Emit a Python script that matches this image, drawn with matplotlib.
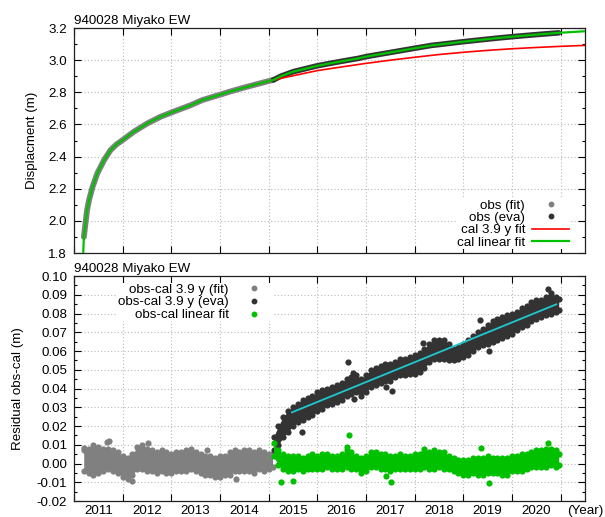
import matplotlib.pyplot as plt
from matplotlib.lines import Line2D
from matplotlib.ticker import MultipleLocator, FixedLocator, FixedFormatter, FormatStrFormatter

plt.rcParams['font.family'] = ['Liberation Sans', 'DejaVu Sans']
plt.rcParams['axes.unicode_minus'] = False

title = "940028 Miyako EW"
year_pos = [2011.5, 2012.5, 2013.5, 2014.5, 2015.5, 2016.5, 2017.5, 2018.5, 2019.5, 2020.5, 2021.5]
year_labels = ['2011', '2012', '2013', '2014', '2015', '2016', '2017', '2018', '2019', '2020', '(Year)']
year_grid = [2011, 2012, 2013, 2014, 2015, 2016, 2017, 2018, 2019, 2020, 2021]

# --- top panel: displacement (m)
obs_fit_t = [2011.203, 2011.24, 2011.27, 2011.31, 2011.38, 2011.48, 2011.62, 2011.75, 2011.87, 2012.0,
             2012.23, 2012.51, 2012.78, 2013.05, 2013.4, 2013.64, 2014.0, 2014.2, 2014.5, 2014.75,
             2015.0, 2015.095]
obs_fit_d = [1.90, 1.995, 2.07, 2.13, 2.21, 2.296, 2.379, 2.44, 2.475, 2.503,
             2.555, 2.607, 2.648, 2.68, 2.72, 2.752, 2.785, 2.804, 2.83, 2.85,
             2.870, 2.877]
obs_eva_t = [2015.095, 2015.25, 2015.5, 2016.0, 2016.26, 2016.5, 2016.84, 2017.0, 2017.5, 2018.0,
             2018.35, 2018.5, 2019.0, 2019.72, 2020.0, 2020.5, 2020.96]
obs_eva_d = [2.877, 2.90, 2.928, 2.965, 2.98, 2.993, 3.011, 3.022, 3.048, 3.074,
             3.092, 3.097, 3.115, 3.138, 3.146, 3.159, 3.17]
cal39_t = [2014.5, 2015.095, 2015.5, 2016.0, 2016.5, 2017.0, 2017.5, 2018.0, 2018.5, 2019.0,
           2019.5, 2020.0, 2020.5, 2021.0, 2021.5]
cal39_d = [2.83, 2.877, 2.903, 2.935, 2.958, 2.98, 3.0, 3.018, 3.035, 3.049,
           3.061, 3.071, 3.079, 3.086, 3.092]
callin_t = [2011.19, 2011.203, 2011.24, 2011.27, 2011.31, 2011.38, 2011.48, 2011.62, 2011.75, 2011.87,
            2012.0, 2012.23, 2012.51, 2012.78, 2013.05, 2013.4, 2013.64, 2014.0, 2014.2, 2014.5,
            2014.75, 2015.0, 2015.095, 2015.25, 2015.5, 2016.0, 2016.26, 2016.5, 2016.84, 2017.0,
            2017.5, 2018.0, 2018.35, 2018.5, 2019.0, 2019.72, 2020.0, 2020.5, 2020.96, 2021.5]
callin_d = [1.80, 1.90, 1.995, 2.07, 2.13, 2.21, 2.296, 2.379, 2.44, 2.475,
            2.503, 2.555, 2.607, 2.648, 2.68, 2.72, 2.752, 2.785, 2.804, 2.83,
            2.85, 2.870, 2.877, 2.90, 2.928, 2.965, 2.98, 2.993, 3.011, 3.022,
            3.048, 3.074, 3.092, 3.097, 3.115, 3.138, 3.146, 3.159, 3.17, 3.18]

# --- bottom panel: residual obs-cal (m), upper / lower edge of the point cloud
res_fit_t = [2011.2, 2011.3, 2011.4, 2011.5, 2011.6, 2011.7, 2011.8, 2011.9, 2012.0, 2012.1,
             2012.2, 2012.3, 2012.4, 2012.5, 2012.6, 2012.7, 2012.8, 2012.9, 2013.0, 2013.1,
             2013.2, 2013.3, 2013.4, 2013.5, 2013.6, 2013.7, 2013.8, 2013.9, 2014.0, 2014.1,
             2014.2, 2014.3, 2014.4, 2014.5, 2014.6, 2014.7, 2014.8, 2014.9, 2015.0, 2015.08]
res_fit_hi = [0.007, 0.008, 0.010, 0.009, 0.008, 0.008, 0.007, 0.006, 0.004, 0.003,
              0.005, 0.009, 0.010, 0.008, 0.007, 0.006, 0.007, 0.006, 0.005, 0.006,
              0.006, 0.007, 0.008, 0.006, 0.005, 0.004, 0.004, 0.003, 0.004, 0.004,
              0.006, 0.007, 0.006, 0.007, 0.007, 0.006, 0.007, 0.006, 0.005, 0.005]
res_fit_lo = [-0.004, -0.005, -0.006, -0.005, -0.004, -0.003, -0.004, -0.005, -0.007, -0.008,
              -0.006, -0.003, -0.003, -0.004, -0.004, -0.005, -0.004, -0.005, -0.005, -0.004,
              -0.004, -0.004, -0.003, -0.004, -0.005, -0.006, -0.006, -0.007, -0.007, -0.006,
              -0.006, -0.004, -0.004, -0.004, -0.004, -0.005, -0.003, -0.004, -0.003, -0.002]
res_fit_out_t = [2011.2, 2011.68, 2011.72, 2012.2, 2012.52, 2013.73, 2014.33]
res_fit_out_v = [0.0081, 0.0116, 0.0118, -0.0092, 0.0108, 0.0071, -0.0085]

res_eva_t = [2015.1, 2015.2, 2015.3, 2015.4, 2015.5, 2015.6, 2015.7, 2015.8, 2015.9, 2016.0,
             2016.1, 2016.2, 2016.3, 2016.4, 2016.5, 2016.6, 2016.7, 2016.8, 2016.9, 2017.0,
             2017.1, 2017.2, 2017.3, 2017.4, 2017.5, 2017.6, 2017.7, 2017.8, 2017.9, 2018.0,
             2018.1, 2018.2, 2018.3, 2018.4, 2018.5, 2018.6, 2018.7, 2018.8, 2018.9, 2019.0,
             2019.1, 2019.2, 2019.3, 2019.4, 2019.5, 2019.6, 2019.7, 2019.8, 2019.9, 2020.0,
             2020.1, 2020.2, 2020.3, 2020.4, 2020.5, 2020.6, 2020.7, 2020.8, 2020.9, 2020.96]
res_eva_hi = [0.014, 0.020, 0.025, 0.028, 0.030, 0.032, 0.034, 0.035, 0.036, 0.038,
              0.039, 0.040, 0.041, 0.042, 0.043, 0.045, 0.046, 0.047, 0.045, 0.047,
              0.050, 0.051, 0.052, 0.053, 0.053, 0.054, 0.056, 0.056, 0.057, 0.058,
              0.059, 0.061, 0.064, 0.066, 0.066, 0.066, 0.064, 0.061, 0.062, 0.064,
              0.066, 0.068, 0.070, 0.072, 0.074, 0.076, 0.077, 0.078, 0.079, 0.080,
              0.081, 0.083, 0.084, 0.086, 0.087, 0.087, 0.089, 0.091, 0.089, 0.088]
res_eva_lo = [0.007, 0.010, 0.014, 0.017, 0.020, 0.022, 0.023, 0.025, 0.026, 0.028,
              0.029, 0.031, 0.032, 0.033, 0.034, 0.036, 0.037, 0.038, 0.036, 0.038,
              0.041, 0.042, 0.043, 0.044, 0.044, 0.046, 0.047, 0.047, 0.048, 0.048,
              0.049, 0.051, 0.054, 0.056, 0.056, 0.056, 0.055, 0.055, 0.056, 0.057,
              0.058, 0.060, 0.062, 0.063, 0.064, 0.065, 0.066, 0.067, 0.068, 0.069,
              0.071, 0.073, 0.074, 0.076, 0.077, 0.078, 0.079, 0.080, 0.081, 0.082]
res_eva_out_t = [2015.69, 2016.64, 2016.74, 2016.76, 2017.41, 2017.53, 2018.17, 2019.35, 2019.52, 2020.75]
res_eva_out_v = [0.0170, 0.0543, 0.0484, 0.0346, 0.0410, 0.0386, 0.0641, 0.0766, 0.0600, 0.0930]

res_lin_t = res_eva_t
res_lin_hi = [0.011, 0.007, 0.005, 0.004, 0.004, 0.004, 0.003, 0.004, 0.005, 0.004,
              0.005, 0.005, 0.004, 0.004, 0.005, 0.007, 0.006, 0.004, 0.003, 0.004,
              0.006, 0.006, 0.005, 0.005, 0.004, 0.004, 0.005, 0.004, 0.004, 0.005,
              0.005, 0.006, 0.006, 0.007, 0.006, 0.006, 0.004, 0.003, 0.002, 0.002,
              0.002, 0.003, 0.003, 0.003, 0.004, 0.003, 0.003, 0.003, 0.003, 0.004,
              0.004, 0.005, 0.005, 0.006, 0.007, 0.007, 0.008, 0.008, 0.007, 0.005]
res_lin_lo = [0.004, -0.001, -0.003, -0.004, -0.004, -0.003, -0.004, -0.003, -0.003, -0.003,
              -0.003, -0.002, -0.003, -0.003, -0.003, -0.002, -0.003, -0.003, -0.005, -0.004,
              -0.002, -0.002, -0.003, -0.003, -0.004, -0.003, -0.003, -0.003, -0.003, -0.003,
              -0.003, -0.002, -0.003, -0.003, -0.002, -0.003, -0.003, -0.004, -0.005, -0.006,
              -0.006, -0.005, -0.006, -0.006, -0.005, -0.005, -0.005, -0.006, -0.006, -0.004,
              -0.004, -0.004, -0.003, -0.002, -0.002, -0.002, -0.002, -0.001, -0.002, -0.001]
res_lin_out_t = [2015.25, 2015.5, 2016.62, 2016.66, 2017.41, 2017.51, 2018.19, 2019.37, 2019.53, 2020.73]
res_lin_out_v = [-0.0100, -0.0095, 0.0089, 0.0150, -0.0065, -0.0097, 0.0076, 0.0084, -0.0102, 0.0110]

trend_t = [2015.48, 2020.91]
trend_v = [0.0273, 0.0849]

c_fit = '#808080'
c_eva = '#333333'
c_lin = '#00c000'
c_red = '#ff0000'
c_cyan = '#20c8d0'
grid_kw = dict(color='#b8b8b8', linestyle=(0, (1, 2)), linewidth=0.8)
fs = 9.6
dot = 20

fig = plt.figure(figsize=(6.05, 5.17), dpi=100)
ax1 = fig.add_axes([0.1223, 0.5106, 0.8446, 0.4352])
ax2 = fig.add_axes([0.1223, 0.0309, 0.8446, 0.4352])

# top panel
ax1.plot(obs_fit_t, obs_fit_d, color=c_fit, lw=4.2, solid_capstyle='round', zorder=2)
ax1.plot(obs_eva_t, obs_eva_d, color=c_eva, lw=4.0, solid_capstyle='round', zorder=2)
ax1.plot(cal39_t, cal39_d, color=c_red, lw=1.2, zorder=3)
ax1.plot(callin_t, callin_d, color=c_lin, lw=1.6, zorder=4)
ax1.set_ylim(1.8, 3.2)
ax1.set_ylabel('Displacment (m)', fontsize=fs)
ax1.yaxis.set_label_coords(-0.070, 0.5)
ax1.yaxis.set_major_locator(MultipleLocator(0.2))
ax1.yaxis.set_minor_locator(MultipleLocator(0.1))
ax1.yaxis.set_major_formatter(FormatStrFormatter('%.1f'))
h1 = [Line2D([], [], ls='none', marker='o', ms=3.2, color=c_fit),
      Line2D([], [], ls='none', marker='o', ms=3.2, color=c_eva),
      Line2D([], [], color=c_red, lw=1.2),
      Line2D([], [], color=c_lin, lw=1.6)]
leg1 = ax1.legend(h1, ['obs (fit)', 'obs (eva)', 'cal 3.9 y fit', 'cal linear fit'],
                  loc='lower right', bbox_to_anchor=(0.969, 0.02), markerfirst=False, fontsize=fs,
                  handlelength=2.75, handletextpad=0.55, labelspacing=0.0, borderpad=0.0,
                  borderaxespad=0.0, frameon=True, fancybox=False, edgecolor='none',
                  facecolor='white', framealpha=1)

# bottom panel
ax2.fill_between(res_fit_t, res_fit_lo, res_fit_hi, color=c_fit, lw=0, zorder=2)
ax2.scatter(res_fit_t, res_fit_hi, s=dot, color=c_fit, lw=0, zorder=2)
ax2.scatter(res_fit_t, res_fit_lo, s=dot, color=c_fit, lw=0, zorder=2)
ax2.scatter(res_fit_out_t, res_fit_out_v, s=dot, color=c_fit, lw=0, zorder=2)
ax2.fill_between(res_eva_t, res_eva_lo, res_eva_hi, color=c_eva, lw=0, zorder=3)
ax2.scatter(res_eva_t, res_eva_hi, s=dot, color=c_eva, lw=0, zorder=3)
ax2.scatter(res_eva_t, res_eva_lo, s=dot, color=c_eva, lw=0, zorder=3)
ax2.scatter(res_eva_out_t, res_eva_out_v, s=dot, color=c_eva, lw=0, zorder=3)
ax2.fill_between(res_lin_t, res_lin_lo, res_lin_hi, color=c_lin, lw=0, zorder=4)
ax2.scatter(res_lin_t, res_lin_hi, s=dot, color=c_lin, lw=0, zorder=4)
ax2.scatter(res_lin_t, res_lin_lo, s=dot, color=c_lin, lw=0, zorder=4)
ax2.scatter(res_lin_out_t, res_lin_out_v, s=dot, color=c_lin, lw=0, zorder=4)
ax2.plot(trend_t, trend_v, color=c_cyan, lw=1.3, zorder=5)
ax2.set_ylim(-0.02, 0.10)
ax2.set_ylabel('Residual obs-cal (m)', fontsize=fs)
ax2.yaxis.set_label_coords(-0.098, 0.5)
ax2.yaxis.set_major_locator(MultipleLocator(0.01))
ax2.yaxis.set_minor_locator(MultipleLocator(0.005))
ax2.yaxis.set_major_formatter(FormatStrFormatter('%.2f'))
h2 = [Line2D([], [], ls='none', marker='o', ms=3.2, color=c_fit),
      Line2D([], [], ls='none', marker='o', ms=3.2, color=c_eva),
      Line2D([], [], ls='none', marker='o', ms=3.2, color=c_lin)]
leg2 = ax2.legend(h2, ['obs-cal 3.9 y (fit)', 'obs-cal 3.9 y (eva)', 'obs-cal linear fit'],
                  loc='upper right', bbox_to_anchor=(0.389, 0.968), markerfirst=False, fontsize=fs,
                  handlelength=2.75, handletextpad=0.55, labelspacing=0.04, borderpad=0.0,
                  borderaxespad=0.0, frameon=True, fancybox=False, edgecolor='none',
                  facecolor='white', framealpha=1)

for ax in (ax1, ax2):
    ax.set_xlim(2011.0, 2021.5)
    ax.xaxis.set_major_locator(FixedLocator(year_grid))
    ax.xaxis.set_minor_locator(FixedLocator(year_pos))
    ax.xaxis.set_major_formatter(FixedFormatter([''] * len(year_grid)))
    ax.xaxis.set_minor_formatter(FixedFormatter(year_labels))
    ax.grid(True, which='major', **grid_kw)
    ax.set_axisbelow(True)
    ax.tick_params(which='both', direction='in', top=True, right=True, labelsize=fs)
    ax.tick_params(axis='y', which='both', pad=5)
    ax.tick_params(axis='x', which='both', pad=3)
    ax.tick_params(which='major', length=5, width=0.8)
    ax.tick_params(which='minor', length=2.5, width=0.8)
    ax.tick_params(axis='x', which='minor', length=0)
    ax.set_title(title, loc='left', fontsize=fs, pad=3)
    for s in ax.spines.values():
        s.set_linewidth(0.9)
        s.set_color('#202020')

ax1.tick_params(axis='x', which='both', labelbottom=False)

plt.savefig('out.png', dpi=100)
